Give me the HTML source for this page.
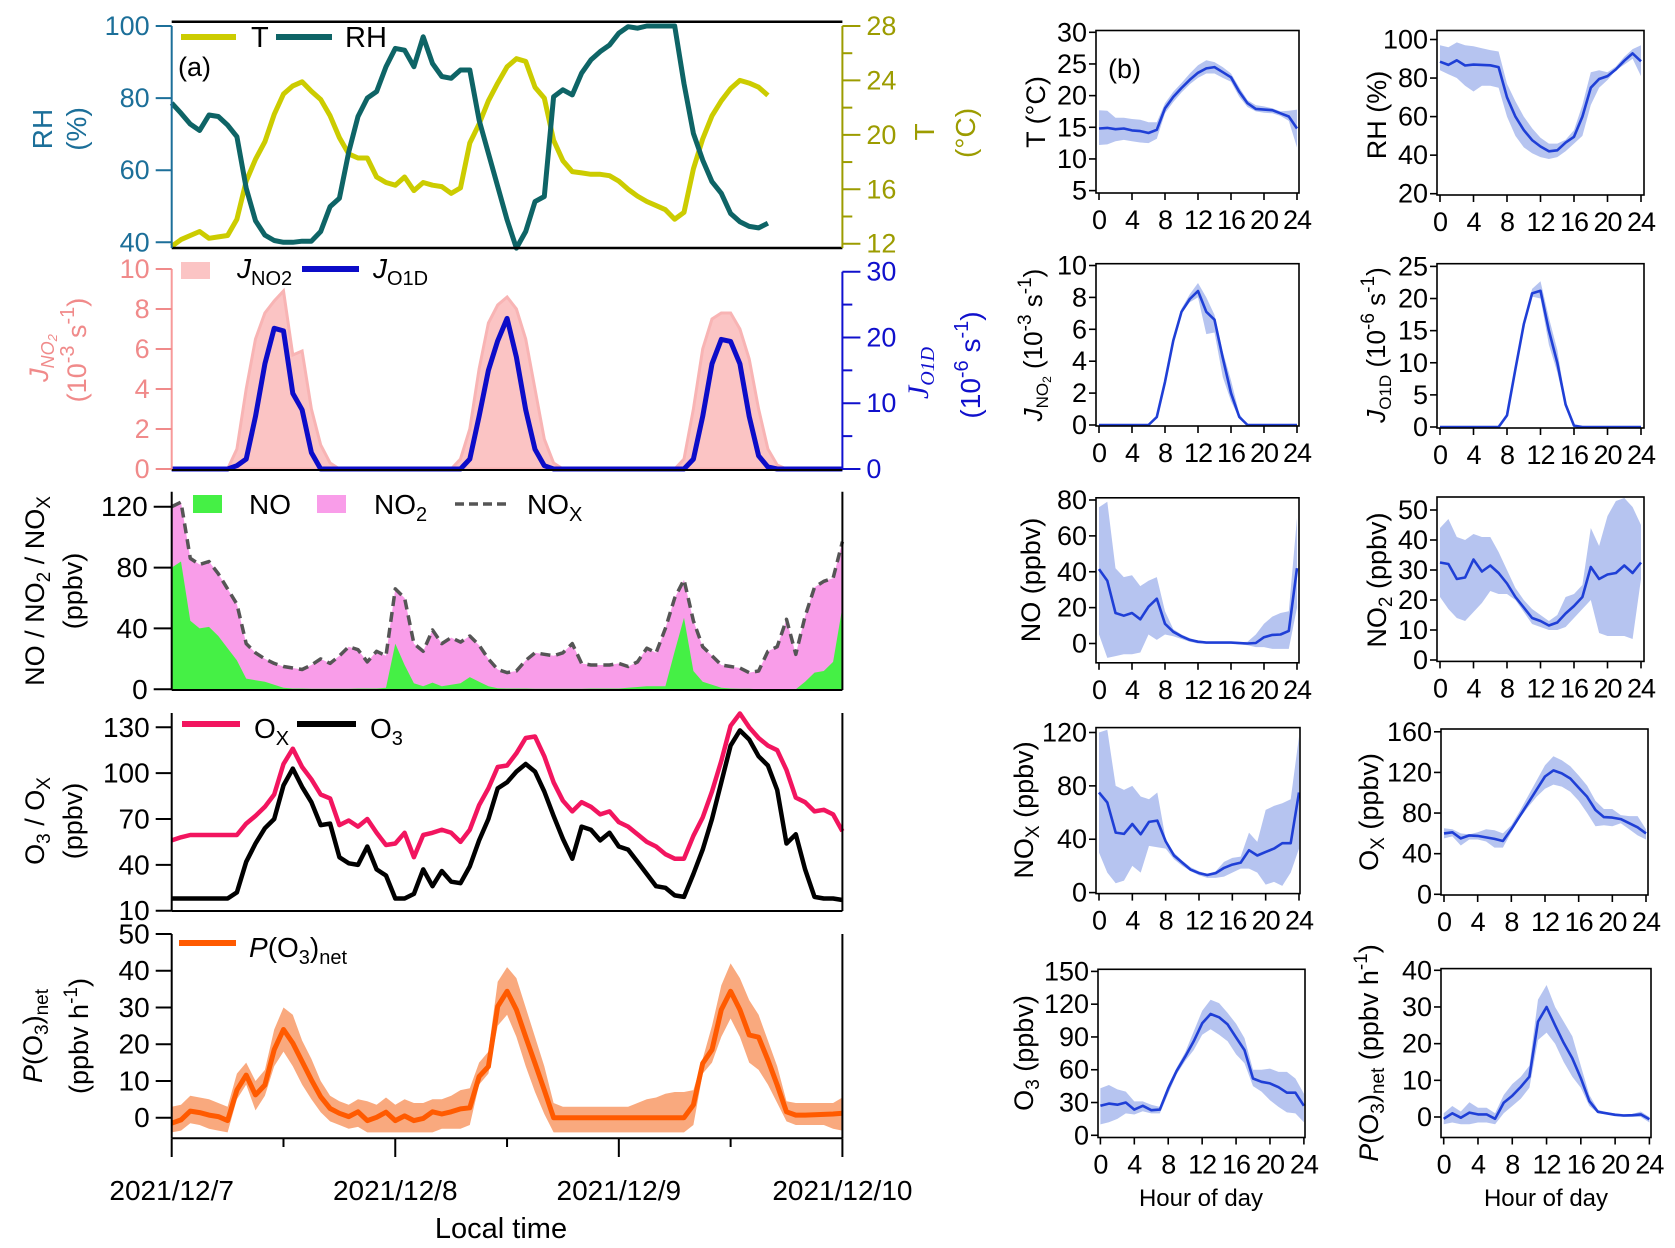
<!DOCTYPE html>
<html><head><meta charset="utf-8"><title>Time series and diurnal profiles</title>
<style>
html,body{margin:0;padding:0;background:#fff;}
svg{display:block;font-family:"Liberation Sans",Arial,sans-serif;}
</style></head>
<body>
<svg id="chart" xmlns="http://www.w3.org/2000/svg" width="1675" height="1248" viewBox="0 0 1675 1248">
<rect x="0" y="0" width="1675" height="1248" fill="#fff"/>
<g id="marks"></g>
<g id="axes"></g>
<g id="texts" font-size="28">
  <line x1="181" y1="37" x2="236" y2="37" stroke="#cccc00" stroke-width="6"/>
  <text x="251" y="47" font-size="29">T</text>
  <line x1="276" y1="37" x2="332" y2="37" stroke="#0e6466" stroke-width="6"/>
  <text x="345" y="47" font-size="29">RH</text>
  <text x="178" y="76" font-size="27">(a)</text>
  <text transform="translate(52,129) rotate(-90)" text-anchor="middle" fill="#1c6f99" font-size="28">RH</text>
  <text transform="translate(86,129) rotate(-90)" text-anchor="middle" fill="#1c6f99" font-size="28">(%)</text>
  <text transform="translate(934,132) rotate(-90)" text-anchor="middle" fill="#9c9c00" font-size="28">T</text>
  <text transform="translate(975,133) rotate(-90)" text-anchor="middle" fill="#9c9c00" font-size="28">(°C)</text>
  <rect x="181" y="262" width="29" height="17" fill="#fbc4c4"/>
  <text x="237" y="278"><tspan font-style="italic">J</tspan><tspan font-size="20" dy="7">NO2</tspan></text>
  <line x1="302" y1="269" x2="359" y2="269" stroke="#0c0cc8" stroke-width="6"/>
  <text x="373" y="278"><tspan font-style="italic">J</tspan><tspan font-size="20" dy="7">O1D</tspan></text>
  <text transform="translate(48,358) rotate(-90)" text-anchor="middle" fill="#f08a8a" font-size="27"><tspan font-style="italic">J</tspan><tspan font-style="italic" font-size="18" dy="6">NO</tspan><tspan font-style="italic" font-size="13" dy="3">2</tspan></text>
  <text transform="translate(86,350) rotate(-90)" text-anchor="middle" fill="#f08a8a" font-size="27">(10<tspan font-size="20" dy="-12">-3</tspan><tspan dy="12"> s</tspan><tspan font-size="20" dy="-12">-1</tspan><tspan dy="12">)</tspan></text>
  <text transform="translate(928,373) rotate(-90)" text-anchor="middle" fill="#1010cc" font-size="30" font-family="Liberation Serif, serif"><tspan font-style="italic">J</tspan><tspan font-style="italic" font-size="20" dy="6">O1D</tspan></text>
  <text transform="translate(980,365) rotate(-90)" text-anchor="middle" fill="#1010cc" font-size="28">(10<tspan font-size="20" dy="-12">-6</tspan><tspan dy="12"> s</tspan><tspan font-size="20" dy="-12">-1</tspan><tspan dy="12">)</tspan></text>
  <rect x="193" y="495" width="29" height="18" fill="#45f045"/>
  <text x="249" y="514">NO</text>
  <rect x="317" y="495" width="29" height="18" fill="#f99de9"/>
  <text x="374" y="514">NO<tspan font-size="20" dy="7">2</tspan></text>
  <line x1="455" y1="504" x2="511" y2="504" stroke="#555" stroke-width="3.5" stroke-dasharray="9 5"/>
  <text x="527" y="514">NO<tspan font-size="20" dy="7">X</tspan></text>
  <text transform="translate(44,591) rotate(-90)" text-anchor="middle" font-size="27">NO / NO<tspan font-size="19" dy="6">2</tspan><tspan dy="-6"> / NO</tspan><tspan font-size="19" dy="6">X</tspan></text>
  <text transform="translate(82,591) rotate(-90)" text-anchor="middle" font-size="27">(ppbv)</text>
  <line x1="182" y1="724" x2="240" y2="724" stroke="#f2155f" stroke-width="6"/>
  <text x="254" y="738">O<tspan font-size="20" dy="7">X</tspan></text>
  <line x1="297" y1="724" x2="356" y2="724" stroke="#000" stroke-width="6"/>
  <text x="370" y="738">O<tspan font-size="20" dy="7">3</tspan></text>
  <text transform="translate(44,821) rotate(-90)" text-anchor="middle" font-size="27">O<tspan font-size="19" dy="6">3</tspan><tspan dy="-6"> / O</tspan><tspan font-size="19" dy="6">X</tspan></text>
  <text transform="translate(82,821) rotate(-90)" text-anchor="middle" font-size="27">(ppbv)</text>
  <line x1="179" y1="943" x2="236" y2="943" stroke="#ff5a00" stroke-width="6"/>
  <text x="249" y="957"><tspan font-style="italic">P</tspan>(O<tspan font-size="20" dy="7">3</tspan><tspan dy="-7">)</tspan><tspan font-size="20" dy="7">net</tspan></text>
  <text transform="translate(42,1036) rotate(-90)" text-anchor="middle" font-size="27"><tspan font-style="italic">P</tspan>(O<tspan font-size="19" dy="6">3</tspan><tspan dy="-6">)</tspan><tspan font-size="19" dy="6">net</tspan></text>
  <text transform="translate(88,1036) rotate(-90)" text-anchor="middle" font-size="27">(ppbv h<tspan font-size="19" dy="-11">-1</tspan><tspan dy="11">)</tspan></text>
  <text x="501" y="1238" text-anchor="middle" font-size="29">Local time</text>
  <text x="1108" y="78" font-size="27">(b)</text>
  <text transform="translate(1045,112) rotate(-90)" text-anchor="middle" font-size="27">T (°C)</text>
  <text transform="translate(1386,115) rotate(-90)" text-anchor="middle" font-size="27">RH (%)</text>
  <text transform="translate(1042,345) rotate(-90)" text-anchor="middle" font-size="26"><tspan font-style="italic">J</tspan><tspan font-size="17" dy="6">NO</tspan><tspan font-size="12" dy="3">2</tspan><tspan dy="-9"> (10</tspan><tspan font-size="19" dy="-11">-3</tspan><tspan dy="11"> s</tspan><tspan font-size="19" dy="-11">-1</tspan><tspan dy="11">)</tspan></text>
  <text transform="translate(1385,345) rotate(-90)" text-anchor="middle" font-size="26"><tspan font-style="italic">J</tspan><tspan font-size="17" dy="6">O1D</tspan><tspan dy="-6"> (10</tspan><tspan font-size="19" dy="-11">-6</tspan><tspan dy="11"> s</tspan><tspan font-size="19" dy="-11">-1</tspan><tspan dy="11">)</tspan></text>
  <text transform="translate(1040,580) rotate(-90)" text-anchor="middle" font-size="27">NO (ppbv)</text>
  <text transform="translate(1386,580) rotate(-90)" text-anchor="middle" font-size="27">NO<tspan font-size="19" dy="6">2</tspan><tspan dy="-6"> (ppbv)</tspan></text>
  <text transform="translate(1033,810) rotate(-90)" text-anchor="middle" font-size="27">NO<tspan font-size="19" dy="6">X</tspan><tspan dy="-6"> (ppbv)</tspan></text>
  <text transform="translate(1378,812) rotate(-90)" text-anchor="middle" font-size="27">O<tspan font-size="19" dy="6">X</tspan><tspan dy="-6"> (ppbv)</tspan></text>
  <text transform="translate(1033,1053) rotate(-90)" text-anchor="middle" font-size="27">O<tspan font-size="19" dy="6">3</tspan><tspan dy="-6"> (ppbv)</tspan></text>
  <text transform="translate(1378,1053) rotate(-90)" text-anchor="middle" font-size="27"><tspan font-style="italic">P</tspan>(O<tspan font-size="19" dy="6">3</tspan><tspan dy="-6">)</tspan><tspan font-size="19" dy="6">net</tspan><tspan dy="-6"> (ppbv h</tspan><tspan font-size="19" dy="-11">-1</tspan><tspan dy="11">)</tspan></text>
  <text x="1201" y="1206" text-anchor="middle" font-size="24">Hour of day</text>
  <text x="1546" y="1206" text-anchor="middle" font-size="24">Hour of day</text>
</g>
</svg>
<script>
// ---------- panel (a) time-series data (hourly, starting 2021/12/7 00:00) ----------
const dateLabels = ["2021/12/7","2021/12/8","2021/12/9","2021/12/10"];
const tempSeries = [11.8,12.3,12.6,12.9,12.4,12.5,12.6,13.8,16.6,18.2,19.5,21.5,23.0,23.6,23.9,23.2,22.6,21.4,19.8,18.6,18.3,18.3,16.9,16.5,16.3,16.9,15.9,16.5,16.3,16.2,15.7,16.1,19.4,20.8,22.5,23.8,25.0,25.6,25.4,23.5,22.7,19.6,18.1,17.3,17.2,17.1,17.1,17.0,16.6,16.0,15.5,15.1,14.8,14.5,13.8,14.3,17.5,19.7,21.4,22.5,23.4,24.0,23.8,23.5,22.9];
const rhSeries = [78.6,75.8,72.8,71,75.3,74.9,72.5,69.3,55,46,42,40.5,40,40,40.3,40.3,43,49.9,52.2,65,74.9,80,81.8,88.7,93.8,93.3,88.7,97,89.6,86,85.5,87.8,87.8,73.9,64.7,55.5,46.2,38.4,43,51.3,52.7,80.4,82.3,80.9,86.9,90.6,92.9,94.7,98,99.8,99.4,100,100,100,100,84,70.2,62.8,56.8,53.6,48,45.7,44.4,44,45.3];
const jno2Series = [0,0,0,0,0,0,0,1,4,6.5,7.8,8.4,8.9,5.7,5.9,3,1.2,0.3,0,0,0,0,0,0,0,0,0,0,0,0,0,0.5,2,5,7.3,8.2,8.6,8,6.5,4,1.5,0.3,0,0,0,0,0,0,0,0,0,0,0,0,0,0.5,3,6,7.5,7.8,7.8,7,5.5,3,1,0.2,0,0,0,0,0,0,0];
const jo1dSeries = [0,0,0,0,0,0,0,0.5,1.5,8,16,21.4,21,11.5,9,2.5,0,0,0,0,0,0,0,0,0,0,0,0,0,0,0,0,1.5,8,15,19.5,22.9,17,9,3,0.5,0,0,0,0,0,0,0,0,0,0,0,0,0,0,0,1.5,8,16,19.7,19.4,16,8,2,0.3,0,0,0,0,0,0,0,0];
const noxSeries = [120,123,86,82,84,76,66,56,30,24,20,17,15,14,13,16,20,17,22,28,26,18,25,22,66,60,30,25,39,30,34,31,35,29,20,13,11,12,19,24,23,22,24,30,17,16,16,16,17,15,18,27,24,40,60,72,45,28,22,16,15,14,11,12,25,28,46,23,48,67,71,73,97];
const noSeries = [80,84,45,40,41,35,27,19,7,6,5,3,1,0.5,0.5,0.3,0.3,0.3,0.3,0.3,0.5,0.5,0.5,1,30,16,4,2,4.4,2,3,4,8,5,2,0.7,0.5,0.5,0.5,0.3,0.3,0.3,0.3,0.3,0.3,0.5,0.5,0.5,0.5,1,1.5,2,2,2,25,47,12,5,3,1,0.5,0.3,0.3,0,0,0,0,0,5,11,12,18,54];
const oxSeries = [56,58,59.5,59.5,59.5,59.5,59.5,59.5,67,72,78,86,106,116,104,96,86,83.5,66,69,65,70,61,53,54,61,45,59.5,61,63,61,55,63,79,90,104,105,113,123,124,111,94,82,75,81,78,73,75,68,65,60,55,52,47,44,44,59,71,88,108,131,139,130,123,118,115,102,84,81,75,76,73,62];
const o3Series = [18,18,18,18,18,18,18,22,42,54,64,70,92,103,91,81,66,67,45,41,40,52,37,33,18,18,21,37,26,36,29,28,39,56,70,90,94,101,106,101,88,72,57,44,65,63,56,61,52,50,42,34,26,25,20,19,34,50,70,94,118,128,122,111,105,89,54,60,37,19,18,18,17];
const po3Series = [-1.5,-0.6,1.8,1.4,0.7,0.3,-0.8,7.5,11.6,6.2,8.9,18.5,24,20.3,15.3,10.3,5.7,2.5,1.2,0.3,1.6,-0.8,0.1,1.5,-0.8,0.5,-0.8,-0.2,1.6,1,1.6,2.4,2.7,11.2,13.9,30.3,34.4,29.4,22,14.8,7.5,0,0,0,0,0,0,0,0,0,0,0,0,0,0,0,3.5,14.8,18.5,29.4,34.4,29.4,22.5,21.9,15.7,8.9,1.6,0.7,0.7,0.8,0.9,1,1.2];
const po3High = [3,3.5,6,5.5,5,4,3,12,15,10,13,24,30,28,21,16,10,6,4.5,3.5,5,4.5,3.5,5.5,3.5,5,4,4,5,5,6,7.5,8,15,18,37,41,38,30,22,14,4,3,3,3,3,3,3,3,3,4,5,5.5,6.5,7,7,7.5,16,25,36,42,38,32,28,21,14,4.5,4,4,4,4,4,5.5];
const po3Low = [-4,-3.5,-1.5,-2,-3,-3.5,-4,5,9,2,6,14,18,14,9,5,1.5,-1,-2,-3,-2.5,-4,-4,-4,-4,-4,-4,-4,-4,-3,-3,-3,-2,9,12,25,28,22,14,7,1,-4,-4,-4,-4,-4,-4,-4,-4,-4,-4,-4,-4,-4,-4,-4,-2,12,15,22,27,22,15,13,9,4,-1,-2,-2,-2,-2,-3,-3.5];
const rhTicks = [40,60,80,100];
const tTicks = [12,16,20,24,28];
const jno2Ticks = [0,2,4,6,8,10];
const jo1dTicks = [0,10,20,30];
const noxTicks = [0,40,80,120];
const o3Ticks = [10,40,70,100,130];
const po3Ticks = [0,10,20,30,40,50];

// ---------- panel (b) diurnal data ----------
const hourTicks = [0,4,8,12,16,20,24];
const dTemp = [14.8,14.9,14.7,14.8,14.5,14.4,14.1,14.6,18,19.8,21.2,22.5,23.6,24.3,24.5,23.7,22.9,20.6,18.8,17.9,17.8,17.7,17.2,16.7,14.8];
const dTempHi = [17.7,17.6,16.5,16.5,16.3,16.2,15.8,15.8,18.8,20.6,22,23.5,24.8,25.6,25.3,24.5,23.5,21.3,19.3,18.5,18.3,18,17.5,17.6,17.8];
const dTempLo = [12.2,12.3,12.8,13,12.8,12.6,12.5,13.2,17.2,19,20.5,21.8,22.8,23.5,23.5,22.8,22.2,19.8,18.2,17.5,17.3,17.2,16.8,16,11.8];
const dRh = [88.5,86.8,89.2,86.5,87,86.8,86.6,85.7,70,60,53,47.8,44.5,42,42.5,46.5,49.5,60,75,79.5,81,84.5,89,92.8,88.7];
const dRhHi = [97,96,98.5,97,96.5,95.5,94.5,93.8,77,68,60,54,49,46,46,48,53,66,83,84,83,86,91,95,97];
const dRhLo = [84,82,80,76,73,76,76,75,60,50,44,41,39,38,39,42,46,50,66,75,79,84,87,90,81];
const dJno2 = [0,0,0,0,0,0,0,0.5,2.7,5.3,7.1,7.9,8.4,7.1,6.6,4.2,2,0.5,0,0,0,0,0,0,0];
const dJno2Hi = [0,0,0,0,0,0,0,0.6,2.9,5.5,7.3,8.2,8.9,8.0,6.9,4.6,2.8,0.7,0,0,0,0,0,0,0];
const dJno2Lo = [0,0,0,0,0,0,0,0.4,2.5,5.1,7.0,7.7,8.0,5.7,5.8,3.0,1.5,0.4,0,0,0,0,0,0,0];
const dJo1d = [0,0,0,0,0,0,0,0,1.8,9,16,20.8,21.2,15,10,3.5,0.2,0,0,0,0,0,0,0,0];
const dJo1dHi = [0,0,0,0,0,0,0,0,1.9,9.3,16.5,21.5,22.7,17,12,4,0.3,0,0,0,0,0,0,0,0];
const dJo1dLo = [0,0,0,0,0,0,0,0,1.7,8.7,15.5,20.3,20,12.8,8.5,3,0.1,0,0,0,0,0,0,0,0];
const dNo = [41.5,35,17,15.5,17,13.5,20.5,25,11,6.5,4,2,1,0.5,0.5,0.5,0.5,0.2,0,0.3,3.5,4.8,5,7,42];
const dNoHi = [76,79,42,37,38,32,35,37,18,8,5,3,1.5,1,1,1,1,0.8,1,5,11,15,17,18,70];
const dNoLo = [5,-8,-7,-6,-6,-5,5,2,5,4,2.5,1,0,0,0,0,0,-0.5,-1,-2,-2,-3,-3,-3,20];
const dNo2 = [32.5,32,27,27.5,33.5,29.5,31.5,29,25.5,21,17.5,14,13,11.5,12.5,15.5,18,21,31,27,28.5,29,31.5,29,32.5];
const dNo2Hi = [44,47,41,40,42,41,41,36,30,24,20,17,15,13,15,21,22,25,44,38,48,53,54,51,45];
const dNo2Lo = [21,17,14,13,16,19,23,22,22,20,16,12,11,10,10,11,14,17,20,9,8,8,8,7,27];
const dNox = [75,67.5,45,44,51.4,43.7,53,54,38.4,27.8,22.5,17.2,14.6,13.2,14.6,18.5,21,22.5,31.8,27.8,30.5,33,37,37,75];
const dNoxHi = [120,122,80,77,80,72,70,75,40,30,24,19,16,14,16,23,26,27,45,38,62,65,67,70,117];
const dNoxLo = [30,15,7,9,20,15,35,34,33,25,20,16,13,11,11,12,15,18,18,15,6,8,5,15,33];
const dOx = [60,61,55,58,57.5,56,54.5,52.5,64,77,90,103,116,122,119,114,105,96,83,76,75.5,74,70,66,60];
const dOxHi = [65,64,60,59,61,64,63,60,68,82,97,112,127,136,132,126,117,107,92,84,84,78,77,77,64];
const dOxLo = [55,57,48,54,54,52,46,46,61,75,86,96,104,108,106,101,92,80,67,68,67,70,64,58,54];
const dO3 = [27,29,28,30,23.5,27,23,23.5,42.7,59,72,86,102.5,111,108,101.5,89.5,78,52,49,47.5,44,39,39,27];
const dO3Hi = [43,46,42,40,31,31,28,26,46,62,76,95,114,124,121,112,102,89,60,60,61,58,58,52,38];
const dO3Lo = [10,12,15,20,19,22,20,20,38,56,68,78,92,97,92,86,74,66,45,40,32,26,21,20,12];
const dPo3 = [-0.5,1,-0.2,1.2,0.7,0.7,-0.5,3.9,5.8,8.2,11,26,30,25,20.2,16,10.6,4.3,1.4,1,0.6,0.4,0.5,0.7,-0.6];
const dPo3Hi = [1,3,1.5,4,2.5,2.5,1,6,9,11,14,32,36,30,26,22,14,6,2,1.3,1,0.8,0.8,1.5,0];
const dPo3Lo = [-2,-1.5,-2,-2,-1.5,-1.5,-2,1,3,5,8,21,23,20,15,11,8,3,1,0.7,0.3,0,0,0,-1.5];
const dTempTicks=[5,10,15,20,25,30], dRhTicks=[20,40,60,80,100], dJno2Ticks=[0,2,4,6,8,10], dJo1dTicks=[0,5,10,15,20,25];
const dNoTicks=[0,20,40,60,80], dNo2Ticks=[0,10,20,30,40,50], dNoxTicks=[0,40,80,120], dOxTicks=[0,40,80,120,160];
const dO3Ticks=[0,30,60,90,120,150], dPo3Ticks=[0,10,20,30,40];

// ---------- drawing ----------
const NS='http://www.w3.org/2000/svg';
const gM=document.getElementById('marks');
const gA=document.getElementById('axes');
function mk(tag,attrs,parent){const e=document.createElementNS(NS,tag);for(const k in attrs)e.setAttribute(k,attrs[k]);parent.appendChild(e);return e;}
function lin(d0,d1,r0,r1){return v=>r0+(v-d0)*(r1-r0)/(d1-d0);}
const X0=171.7, X1=842.4;
const hx=lin(0,72,X0,X1);
function pathOf(xf,yf,arr){return arr.map((v,i)=>(i?'L':'M')+xf(i).toFixed(1)+','+yf(v).toFixed(1)).join('');}
function bandOf(xf,yf,hi,lo){let d=hi.map((v,i)=>(i?'L':'M')+xf(i).toFixed(1)+','+yf(v).toFixed(1)).join('');for(let i=lo.length-1;i>=0;i--)d+='L'+xf(i).toFixed(1)+','+yf(lo[i]).toFixed(1);return d+'Z';}
function areaOf(xf,yf,arr,base){let d='M'+xf(0).toFixed(1)+','+yf(base).toFixed(1);arr.forEach((v,i)=>{d+='L'+xf(i).toFixed(1)+','+yf(v).toFixed(1);});return d+'L'+xf(arr.length-1).toFixed(1)+','+yf(base).toFixed(1)+'Z';}
function vline(x,y0,y1,color,w,name){const l=mk('line',{x1:x,y1:y0,x2:x,y2:y1,stroke:color,'stroke-width':w},gA);

return l;}
function hline(y,x0,x1,color,w,name){const l=mk('line',{x1:x0,y1:y,x2:x1,y2:y,stroke:color,'stroke-width':w},gA);

return l;}
function yTicks(x,ticks,yf,dir,len,color,fs,prefix,minor){
  ticks.forEach(v=>{
    const t=mk('line',{x1:x,y1:yf(v),x2:x+dir*len,y2:yf(v),stroke:color,'stroke-width':2},gA);
    
    
    const lb=mk('text',{x:x+dir*(len+6),y:yf(v),'text-anchor':dir<0?'end':'start','dominant-baseline':'central',fill:color,'font-size':fs},gA);
    lb.textContent=String(v);
    
    
  });
  (minor||[]).forEach(v=>{
    const t=mk('line',{x1:x,y1:yf(v),x2:x+dir*len*0.55,y2:yf(v),stroke:color,'stroke-width':2},gA);
    
    
  });
}
function series(d,stroke,w,name,extra){const p=mk('path',Object.assign({d:d,fill:'none',stroke:stroke,'stroke-width':w,'stroke-linejoin':'round'},extra||{}),gM);

return p;}
function fillp(d,fill,name){const p=mk('path',{d:d,fill:fill,stroke:'none'},gM);

return p;}

// a1
const yRH=lin(40,100,242.3,26), yT=lin(12,28,243.7,26);
hline(21.7,X0,X1,'#000',2.5,'a1-top-frame');
hline(248,X0,X1,'#000',2.5,'a1-bottom-frame');
vline(X0,26,248,'#1c6f99',2,'rh-axis-line');
vline(X1,26,248,'#9c9c00',2,'t-axis-line');
yTicks(X0,rhTicks,yRH,-1,16,'#1c6f99',27,'rh');
yTicks(X1,tTicks,yT,1,18,'#9c9c00',27,'t',[14,18,22,26]);
series(pathOf(hx,yT,tempSeries),'#cccc00',5,'temperature-line');
series(pathOf(hx,yRH,rhSeries),'#0e6466',5,'rh-line');

// a2
const yJN=lin(0,10,469,269), yJO=lin(0,30,469,271.7);
vline(X0,269,470,'#f79a9a',2,'jno2-axis-line');
vline(X1,271.7,470,'#1010d0',2,'jo1d-axis-line');
hline(470,X0,X1,'#000',2,'a2-bottom-frame');
yTicks(X0,jno2Ticks,yJN,-1,16,'#f08a8a',27,'jno2');
yTicks(X1,jo1dTicks,yJO,1,18,'#1010cc',27,'jo1d',[5,15,25]);
const jn=fillp(areaOf(hx,yJN,jno2Series,0),'#fbc4c4','jno2-area');
jn.setAttribute('stroke','#f8b4b4');jn.setAttribute('stroke-width','3');
series(pathOf(hx,yJO,jo1dSeries),'#0c0cc8',5,'jo1d-line');

// a3
const yNX=lin(0,120,689.3,506.7);
vline(X0,491.7,690,'#000',2,'nox-axis-line');
vline(X1,491.7,690,'#000',2,'a3-right-frame');
hline(690,X0,X1,'#000',2,'a3-bottom-frame');
yTicks(X0,noxTicks,yNX,-1,18,'#000',28,'nox');
fillp(areaOf(hx,yNX,noxSeries,0),'#f99de9','no2-area');
fillp(areaOf(hx,yNX,noSeries,0),'#45f045','no-area');
series(pathOf(hx,yNX,noxSeries),'#555',3.5,'nox-dashed-line',{'stroke-dasharray':'10 6'});

// a4
const yO=lin(10,130,910.7,727.3);
vline(X0,713,911,'#000',2,'o3-axis-line');
vline(X1,713,911,'#000',2,'a4-right-frame');
hline(911,X0,X1,'#000',2,'a4-bottom-frame');
yTicks(X0,o3Ticks,yO,-1,16,'#000',28,'o3');
series(pathOf(hx,yO,oxSeries),'#f2155f',4.5,'ox-line');
series(pathOf(hx,yO,o3Series),'#000',4.5,'o3-line');

// a5
const yP=lin(0,50,1117.7,934);
vline(X0,934,1138.3,'#000',2,'po3-axis-line');
vline(X1,934,1138.3,'#000',2,'a5-right-frame');
hline(1138.3,X0,X1,'#000',2,'time-axis-line');
yTicks(X0,po3Ticks,yP,-1,16,'#000',28,'po3');
fillp(bandOf(hx,yP,po3High,po3Low),'#f9a97e','po3-band');
series(pathOf(hx,yP,po3Series),'#ff5a00',5,'po3-line');
dateLabels.forEach((s,i)=>{
  const t=mk('line',{x1:hx(i*24),y1:1138.3,x2:hx(i*24),y2:1157,stroke:'#000','stroke-width':2},gA);
  
  
  const lb=mk('text',{x:hx(i*24),y:1200,'text-anchor':'middle','font-size':28},gA);
  lb.textContent=s;
  
  
  if(i<3){const m=mk('line',{x1:hx(i*24+12),y1:1138.3,x2:hx(i*24+12),y2:1147,stroke:'#000','stroke-width':2},gA);
  
  }
});

// panel (b)
function small(c){
  const xf=lin(0,24,c.h0,c.h1), yf=lin(c.vb,c.vt,c.pb,c.pt);
  const bx=mk('rect',{x:c.bx0,y:c.by0,width:c.bx1-c.bx0,height:c.by1-c.by0,fill:'none',stroke:'#000','stroke-width':1.6},gA);
  
  
  fillp(bandOf(i=>xf(i),yf,c.hi,c.lo),'#b6c4f0',c.name+'-band');
  series(pathOf(i=>xf(i),yf,c.line),'#1f3fd6',2.6,c.name+'-line');
  c.ticks.forEach(v=>{
    const t=mk('line',{x1:c.bx0,y1:yf(v),x2:c.bx0-7,y2:yf(v),stroke:'#000','stroke-width':1.6},gA);
    
    
    const lb=mk('text',{x:c.bx0-9,y:yf(v),'text-anchor':'end','dominant-baseline':'central','font-size':27},gA);
    lb.textContent=String(v);
    
    
  });
  hourTicks.forEach(h=>{
    const t=mk('line',{x1:xf(h),y1:c.by1,x2:xf(h),y2:c.by1+7,stroke:'#000','stroke-width':1.6},gA);
    
    
    const lb=mk('text',{x:xf(h),y:c.by1+36,'text-anchor':'middle','font-size':27,'letter-spacing':'-1'},gA);
    lb.textContent=String(h);
    
    
  });
}
const C1={bx0:1096,bx1:1299,h0:1099,h1:1297}, C2={bx0:1437,bx1:1644,h0:1440,h1:1641};
small(Object.assign({name:'b-t',by0:30.5,by1:193,vt:30,pt:32.3,vb:5,pb:190.6,ticks:dTempTicks,line:dTemp,hi:dTempHi,lo:dTempLo},C1));
small(Object.assign({name:'b-rh',by0:30.5,by1:195,vt:100,pt:39.5,vb:20,pb:193.7,ticks:dRhTicks,line:dRh,hi:dRhHi,lo:dRhLo},C2));
small(Object.assign({name:'b-jno2',by0:263.7,by1:426,vt:10,pt:265.5,vb:0,pb:425,ticks:dJno2Ticks,line:dJno2,hi:dJno2Hi,lo:dJno2Lo},C1));
small(Object.assign({name:'b-jo1d',by0:263.7,by1:428,vt:25,pt:266.4,vb:0,pb:427,ticks:dJo1dTicks,line:dJo1d,hi:dJo1dHi,lo:dJo1dLo},C2));
small(Object.assign({name:'b-no',by0:497.8,by1:662.8,vt:80,pt:500,vb:0,pb:643.5,ticks:dNoTicks,line:dNo,hi:dNoHi,lo:dNoLo},C1));
small(Object.assign({name:'b-no2',by0:497,by1:661.4,vt:50,pt:510,vb:0,pb:660,ticks:dNo2Ticks,line:dNo2,hi:dNo2Hi,lo:dNo2Lo},C2));
small({name:'b-nox',bx0:1096,bx1:1300,h0:1099,h1:1299,by0:727.6,by1:893.6,vt:120,pt:732.5,vb:0,pb:892.6,ticks:dNoxTicks,line:dNox,hi:dNoxHi,lo:dNoxLo});
small({name:'b-ox',bx0:1441,bx1:1648,h0:1444,h1:1646,by0:729,by1:895,vt:160,pt:731.8,vb:0,pb:894.3,ticks:dOxTicks,line:dOx,hi:dOxHi,lo:dOxLo});
small({name:'b-o3',bx0:1098,bx1:1305,h0:1100.4,h1:1303.9,by0:969.3,by1:1137.5,vt:150,pt:971.4,vb:0,pb:1135.3,ticks:dO3Ticks,line:dO3,hi:dO3Hi,lo:dO3Lo});
small({name:'b-po3',bx0:1441,bx1:1651,h0:1443.7,h1:1649.4,by0:968.6,by1:1137.5,vt:40,pt:970.3,vb:0,pb:1117,ticks:dPo3Ticks,line:dPo3,hi:dPo3Hi,lo:dPo3Lo});
</script>
</body></html>
